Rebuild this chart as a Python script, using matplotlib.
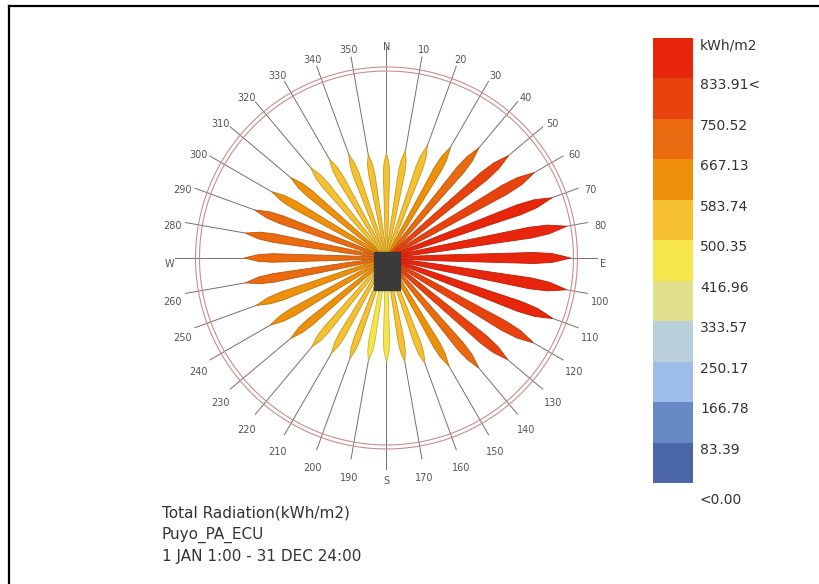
import numpy as np
import matplotlib.pyplot as plt
from matplotlib.colors import ListedColormap, BoundaryNorm, to_rgb
from matplotlib.patches import Rectangle
from matplotlib.lines import Line2D

# total radiation per direction (deg from north, clockwise), kWh/m2
directions = np.arange(0, 360, 10)
radiation = [505, 525, 575, 615, 690, 765, 820, 845, 878, 884,
             878, 850, 815, 760, 690, 600, 540, 505, 500, 500,
             515, 530, 560, 600, 645, 665, 688, 683, 688, 673,
             636, 600, 568, 550, 530, 506]

legend_steps = [0.00, 83.39, 166.78, 250.17, 333.57, 416.96,
                500.35, 583.74, 667.13, 750.52, 833.91, 917.30]
legend_colors = ['#4a66a6', '#6688c4', '#9dbce8', '#b9cfdc', '#e0e08c', '#f6e64c',
                 '#f5c130', '#ef900a', '#ea6a0f', '#e8430e', '#e8260c']
legend_labels = ['kWh/m2', '833.91<', '750.52', '667.13', '583.74', '500.35',
                 '416.96', '333.57', '250.17', '166.78', '83.39', '<0.00']
title_lines = ['Total Radiation(kWh/m2)', 'Puyo_PA_ECU', '1 JAN 1:00 - 31 DEC 24:00']

rmax = legend_steps[-1]
cmap = ListedColormap(legend_colors)
norm = BoundaryNorm(legend_steps, cmap.N)

fig = plt.figure(figsize=(8.19, 5.84), dpi=100)

# rose
ax = fig.add_axes([0.2387, 0.2312, 0.4664, 0.6541], projection='polar')
ax.set_theta_zero_location('N')
ax.set_theta_direction(-1)
ax.set_ylim(0, rmax)
ax.axis('off')

th = np.linspace(0, 2 * np.pi, 721)
for r in (rmax * 187 / 191, rmax):
    ax.plot(th, np.full_like(th, r), color='#c88e8e', lw=0.8, clip_on=False)

for d in directions:
    a = np.deg2rad(d)
    L = rmax * 211 / 191 if d % 90 == 0 else rmax * 204 / 191
    ax.plot([a, a], [0, L], color='#7e6a6e', lw=0.7, clip_on=False, zorder=1)
    lab = {0: 'N', 90: 'E', 180: 'S', 270: 'W'}.get(d, str(d))
    ax.annotate(lab, xy=(a, rmax * 217 / 191), xytext=(0, -4.3),
                textcoords='offset points', ha='center', va='center',
                fontsize=7, color='#555555', annotation_clip=False)

# petal outline: fraction along length, half width as fraction of length
t = np.array([0.05, 0.3, 0.6, 0.8, 0.9, 0.96])
w = np.array([0.006, 0.016, 0.024, 0.03, 0.024, 0.01])
for d, v in zip(directions, radiation):
    a = np.deg2rad(d)
    off = np.arctan(w / t)
    rr = v * np.sqrt(t ** 2 + w ** 2)
    thetas = np.concatenate([[a], a + off, [a], (a - off)[::-1]])
    rs = np.concatenate([[0], rr, [v], rr[::-1]])
    fc = cmap(norm(v))
    ec = np.array(to_rgb(fc)) * 0.8
    ax.fill(thetas, rs, facecolor=fc, edgecolor=ec, lw=0.6, zorder=3)

fig.add_artist(Rectangle((0.4567, 0.5034), 0.0317, 0.0651, transform=fig.transFigure,
                         color='#3a3a3a', zorder=10))

# legend
lax = fig.add_axes([0.7973, 0.1729, 0.0488, 0.762])
lax.bar(0.5, np.diff(legend_steps), bottom=legend_steps[:-1], width=1, color=legend_colors)
lax.set_xlim(0, 1)
lax.set_ylim(0, rmax)
lax.axis('off')
for i, lab in enumerate(legend_labels[:-1]):
    lax.text(1.175, legend_steps[11 - i] - 14.4, lab, fontsize=10, color='#333333',
             va='center', ha='left', clip_on=False)
lax.text(1.175, -35, legend_labels[-1], fontsize=10, color='#333333',
         va='center', ha='left', clip_on=False)

for y, line in zip([0.1216, 0.0839, 0.0479], title_lines):
    fig.text(0.1974, y, line, fontsize=11, color='#333333', va='center')

# frame
fig.add_artist(Line2D([9 / 819, 1], [1 - 6 / 584] * 2, transform=fig.transFigure, color='k', lw=1.6))
fig.add_artist(Line2D([9 / 819] * 2, [0, 1 - 6 / 584], transform=fig.transFigure, color='k', lw=1.6))

fig.savefig('out.png', dpi=100)
